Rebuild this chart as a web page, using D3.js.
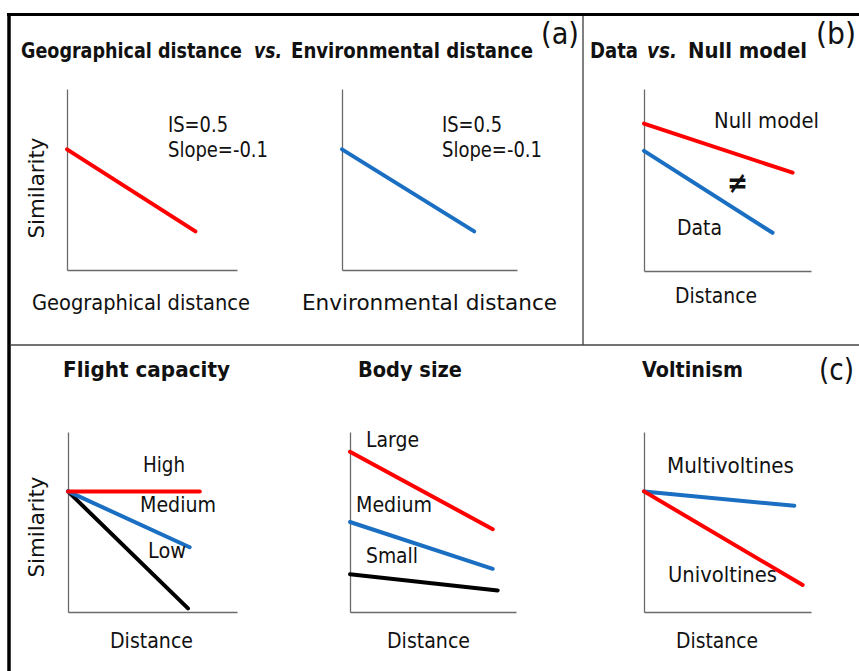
<!DOCTYPE html>
<html>
<head>
<meta charset="utf-8">
<script src="https://cdn.jsdelivr.net/npm/d3@7"></script>
<style>
  body { margin: 0; background: #fff; }
  svg { display: block; }
  text { font-family: "DejaVu Sans", Verdana, sans-serif; fill: #111; }
</style>
</head>
<body>
<svg id="fig" width="859" height="671"></svg>
<script>
// ---- Panel (a): distance-decay with a shared intercept and slope ----
const interceptValue = 0.5;
const slopeValue = -0.1;
const geoDistanceEnd = 3.4;
const envDistanceEnd = 3.4;
const geoSeries = [[0, interceptValue], [geoDistanceEnd, interceptValue + slopeValue * geoDistanceEnd]];
const envSeries = [[0, interceptValue], [envDistanceEnd, interceptValue + slopeValue * envDistanceEnd]];

// ---- Panel (b): observed decay vs. null expectation ----
const nullModelSeries = [[0, 0.81], [0.89, 0.54]];
const dataSeries = [[0, 0.66], [0.77, 0.21]];

// ---- Panel (c): decay by species trait ----
const flightHigh = [[0, 0.67], [0.78, 0.67]];
const flightMedium = [[0, 0.67], [0.72, 0.36]];
const flightLow = [[0, 0.67], [0.71, 0.02]];

const sizeLarge = [[0, 0.89], [0.86, 0.46]];
const sizeMedium = [[0, 0.50], [0.86, 0.24]];
const sizeSmall = [[0, 0.21], [0.89, 0.12]];

const multivoltines = [[0, 0.67], [0.90, 0.59]];
const univoltines = [[0, 0.67], [0.95, 0.15]];

const RED = "#ff0000", BLUE = "#1a6fc2", BLACK = "#000000", AXIS = "#6a6a6a";

const svg = d3.select("#fig");

// text helper: fixed start position and rendered width
function label(g, str, x, y, w, opt = {}) {
  const t = g.append("text")
    .attr("x", x).attr("y", y)
    .attr("font-size", opt.size || 20.5)
    .attr("font-weight", opt.bold ? "bold" : "normal")
    .attr("font-style", opt.italic ? "italic" : "normal")
    .text(str);
  if (opt.rotate) t.attr("transform", `rotate(-90,${x},${y})`).attr("text-anchor", "middle");
  if (w) t.attr("textLength", w).attr("lengthAdjust", "spacingAndGlyphs");
  return t;
}

// mini plot: an L-shaped pair of axes and straight decay lines
function miniPlot(box, xDomain, yDomain, series) {
  const x = d3.scaleLinear().domain(xDomain).range([box.x0, box.x1]);
  const y = d3.scaleLinear().domain(yDomain).range([box.y0, box.y1]);
  const g = svg.append("g");
  g.append("g").attr("transform", `translate(0,${box.y0})`)
    .call(d3.axisBottom(x).ticks(0).tickSizeOuter(0))
    .select(".domain").attr("stroke", AXIS).attr("stroke-width", 1.3);
  g.append("g").attr("transform", `translate(${box.x0},0)`)
    .call(d3.axisLeft(y).ticks(0).tickSizeOuter(0))
    .select(".domain").attr("stroke", AXIS).attr("stroke-width", 1.3);
  const line = d3.line().x(d => x(d[0])).y(d => y(d[1]));
  series.forEach(s => {
    g.append("path").datum(s.values)
      .attr("d", line)
      .attr("fill", "none")
      .attr("stroke", s.color)
      .attr("stroke-width", 4)
      .attr("stroke-linecap", "round");
  });
  return g;
}

// ---- frame and dividers ----
svg.append("line").attr("x1", 7).attr("x2", 859).attr("y1", 14.5).attr("y2", 14.5)
  .attr("stroke", "#000").attr("stroke-width", 3);
svg.append("line").attr("x1", 9).attr("x2", 9).attr("y1", 13).attr("y2", 671)
  .attr("stroke", "#000").attr("stroke-width", 3.5);
svg.append("line").attr("x1", 583).attr("x2", 583).attr("y1", 16).attr("y2", 345)
  .attr("stroke", "#808080").attr("stroke-width", 2);
svg.append("line").attr("x1", 11).attr("x2", 859).attr("y1", 345).attr("y2", 345)
  .attr("stroke", "#444").attr("stroke-width", 1.5);

// ---- panel (a) ----
label(svg, "Geographical distance", 21, 58, 221, { bold: true });
label(svg, "vs.", 254, 58, 28, { bold: true, italic: true });
label(svg, "Environmental distance", 291, 58, 242, { bold: true });
label(svg, "(a)", 541, 44, 38, { size: 30 });

miniPlot({ x0: 67, x1: 237, y0: 270, y1: 89 }, [0, 4.5], [0, 0.75], [{ values: geoSeries, color: RED }]);
label(svg, `IS=${interceptValue}`, 168, 132, 60);
label(svg, `Slope=${slopeValue}`, 168, 157, 100);
label(svg, "Similarity", 44, 188, 101, { rotate: true });
label(svg, "Geographical distance", 32, 310, 218);

miniPlot({ x0: 342, x1: 517, y0: 270, y1: 89 }, [0, 4.5], [0, 0.75], [{ values: envSeries, color: BLUE }]);
label(svg, `IS=${interceptValue}`, 442, 132, 60);
label(svg, `Slope=${slopeValue}`, 442, 157, 100);
label(svg, "Environmental distance", 302, 310, 255);

// ---- panel (b) ----
label(svg, "Data", 590, 58, 48, { bold: true });
label(svg, "vs.", 647, 58, 30, { bold: true, italic: true });
label(svg, "Null model", 688, 58, 119, { bold: true });
label(svg, "(b)", 816, 44, 40, { size: 30 });
miniPlot({ x0: 644, x1: 811, y0: 271, y1: 89 }, [0, 1], [0, 1],
  [{ values: nullModelSeries, color: RED }, { values: dataSeries, color: BLUE }]);
label(svg, "Null model", 714, 128, 105);
label(svg, "\u2260", 727, 193, 21, { size: 30, bold: true });
label(svg, "Data", 677, 235, 45);
label(svg, "Distance", 675, 303, 82);

// ---- panel (c) ----
label(svg, "Flight capacity", 63, 377, 167, { bold: true });
label(svg, "Body size", 358, 377, 104, { bold: true });
label(svg, "Voltinism", 642, 377, 101, { bold: true });
label(svg, "(c)", 819, 380, 35, { size: 31 });

miniPlot({ x0: 68, x1: 237, y0: 612, y1: 432 }, [0, 1], [0, 1],
  [{ values: flightLow, color: BLACK }, { values: flightMedium, color: BLUE }, { values: flightHigh, color: RED }]);
label(svg, "High", 143, 472, 42);
label(svg, "Medium", 140, 512, 76);
label(svg, "Low", 148, 558, 38);
label(svg, "Similarity", 44, 527, 101, { rotate: true });
label(svg, "Distance", 110, 648, 83);

miniPlot({ x0: 350, x1: 516, y0: 612, y1: 432 }, [0, 1], [0, 1],
  [{ values: sizeLarge, color: RED }, { values: sizeMedium, color: BLUE }, { values: sizeSmall, color: BLACK }]);
label(svg, "Large", 366, 447, 53);
label(svg, "Medium", 356, 512, 76);
label(svg, "Small", 366, 563, 52);
label(svg, "Distance", 387, 648, 83);

label(svg, "Multivoltines", 667, 473, 127);
label(svg, "Univoltines", 668, 582, 109);
miniPlot({ x0: 644, x1: 811, y0: 612, y1: 432 }, [0, 1], [0, 1],
  [{ values: multivoltines, color: BLUE }, { values: univoltines, color: RED }]);
label(svg, "Distance", 676, 648, 82);
</script>
</body>
</html>
